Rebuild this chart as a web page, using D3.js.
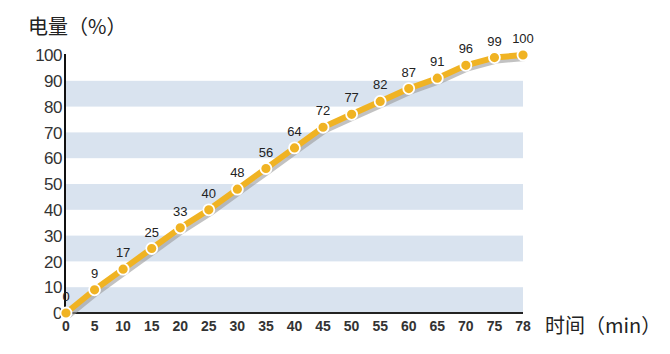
<!DOCTYPE html>
<html><head><meta charset="utf-8">
<script src="https://cdn.jsdelivr.net/npm/d3@7"></script>
<style>body{margin:0;background:#fff}svg{display:block}</style>
</head><body>
<script>
const categories = ["0","5","10","15","20","25","30","35","40","45","50","55","60","65","70","75","78"];
const values = [0,9,17,25,33,40,48,56,64,72,77,82,87,91,96,99,100];
const yTicks = [0,10,20,30,40,50,60,70,80,90,100];
const bands = [[0,10],[20,30],[40,50],[60,70],[80,90]];

const W=670,H=354;
const svg=d3.select("body").append("svg").attr("width",W).attr("height",H);
const x=d3.scalePoint().domain(categories).range([66,523]);
const y=d3.scaleLinear().domain([0,100]).range([313,55]);
const font="'Liberation Sans', Arial, sans-serif";

svg.selectAll("rect.band").data(bands).enter().append("rect")
 .attr("x",66).attr("width",523-66)
 .attr("y",d=>y(d[1])).attr("height",d=>y(d[0])-y(d[1]))
 .attr("fill","#d9e3ef");

// axes
svg.append("line").attr("x1",65).attr("x2",65).attr("y1",y(100)-1).attr("y2",y(0)).attr("stroke","#111").attr("stroke-width",2);
svg.append("line").attr("x1",65).attr("x2",523).attr("y1",y(0)).attr("y2",y(0)).attr("stroke","#222").attr("stroke-width",2);

svg.selectAll("text.yt").data(yTicks).enter().append("text")
 .attr("x",62).attr("y",d=>y(d)).attr("dy","0.36em").attr("text-anchor","end")
 .attr("font-family",font).attr("font-size",17).attr("letter-spacing","-0.5").attr("fill","#333").text(d=>d);

svg.selectAll("text.xt").data(categories).enter().append("text")
 .attr("x",d=>x(d)).attr("y",331).attr("text-anchor","middle")
 .attr("font-family",font).attr("font-size",14).attr("font-weight","bold").attr("fill","#333").text(d=>d);

svg.append("text").attr("x",545).attr("y",333).attr("font-family","'Noto Sans CJK SC', sans-serif").attr("font-size",20).attr("fill","#222").text("时间（min）");
svg.append("text").attr("x",28).attr("y",34).attr("font-family","'Noto Sans CJK SC', sans-serif").attr("font-size",20).attr("fill","#222").text("电量（%）");

const data=categories.map((c,i)=>({c,v:values[i]}));
const line=d3.line().x(d=>x(d.c)).y(d=>y(d.v));
svg.append("path").datum(data).attr("d",line).attr("fill","none").attr("stroke","#9a9a9a").attr("stroke-opacity",0.6).attr("stroke-width",6).attr("transform","translate(2,3)");
svg.append("path").datum(data).attr("d",line).attr("fill","none").attr("stroke","#f0b323").attr("stroke-width",6).attr("stroke-linejoin","round");
svg.selectAll("circle").data(data).enter().append("circle")
 .attr("cx",d=>x(d.c)).attr("cy",d=>y(d.v)).attr("r",5.5)
 .attr("fill","#f0b323").attr("stroke","#fff").attr("stroke-width",1.8);
svg.selectAll("text.lbl").data(data).enter().append("text")
 .attr("x",d=>x(d.c)).attr("y",d=>y(d.v)-12).attr("text-anchor","middle")
 .attr("font-family",font).attr("font-size",13).attr("fill","#222").text(d=>d.v);
</script>
</body></html>
